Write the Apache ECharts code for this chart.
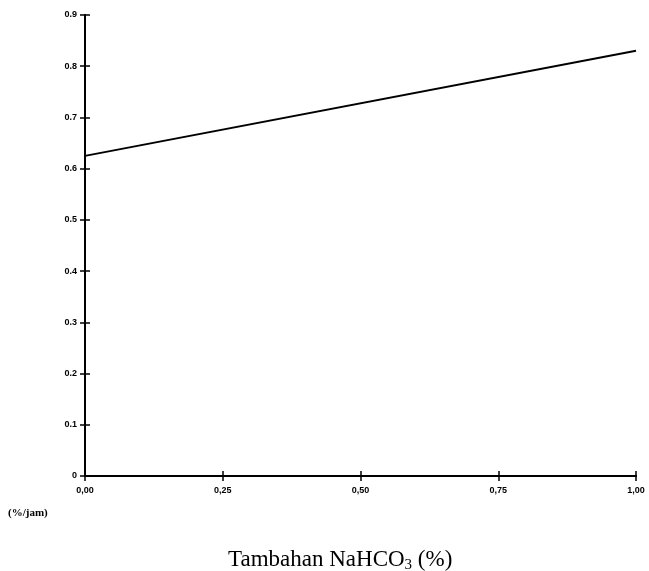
<!DOCTYPE html>
<html>
<head>
<meta charset="utf-8">
<script src="https://cdn.jsdelivr.net/npm/echarts@6/dist/echarts.min.js"></script>
<style>
  html, body { margin: 0; padding: 0; background: #fff; }
  #chart { width: 649px; height: 571px; }
</style>
</head>
<body>
<div id="chart"></div>
<script>
// data
var xValues = [0, 1];
var yValues = [0.625, 0.83];
var xTicks = [0, 0.25, 0.5, 0.75, 1];
var yTicks = [0, 0.1, 0.2, 0.3, 0.4, 0.5, 0.6, 0.7, 0.8, 0.9];

var chart = echarts.init(document.getElementById('chart'));

var labelFont = { color: '#000', fontFamily: 'Liberation Sans', fontWeight: 'bold', fontSize: 9 };

function xAxisCfg(inside, show) {
  return {
    type: 'value', min: 0, max: 1, interval: 0.25, position: 'bottom',
    axisLine: { show: true, onZero: false, lineStyle: { color: '#000', width: 2 } },
    axisTick: { show: true, inside: inside, length: 5, lineStyle: { color: '#000', width: 1.5 } },
    axisLabel: Object.assign({ show: show, margin: 10,
      formatter: function (v) { return v.toFixed(2).replace('.', ','); } }, labelFont),
    splitLine: { show: false }
  };
}
function yAxisCfg(inside, show) {
  return {
    type: 'value', min: 0, max: 0.9, interval: 0.1, position: 'left',
    axisLine: { show: true, onZero: false, lineStyle: { color: '#000', width: 2 } },
    axisTick: { show: true, inside: inside, length: 5, lineStyle: { color: '#000', width: 1.5 } },
    axisLabel: Object.assign({ show: show, margin: 8,
      formatter: function (v) { return v === 0 ? '0' : v.toFixed(1); } }, labelFont),
    splitLine: { show: false }
  };
}

chart.setOption({
  animation: false,
  backgroundColor: '#fff',
  grid: { left: 85, right: 13, top: 15, bottom: 95 },
  xAxis: [xAxisCfg(false, true), xAxisCfg(true, false)],
  yAxis: [yAxisCfg(false, true), yAxisCfg(true, false)],
  title: [
    { text: '(%/jam)', left: 3, top: 503,
      textStyle: { fontFamily: 'Liberation Serif', fontWeight: 'bold', fontSize: 11, color: '#000' } },
    { text: 'Tambahan NaHCO{s|3} (%)', left: 223, top: 541,
      textStyle: { fontFamily: 'Liberation Serif', fontWeight: 'normal', fontSize: 23, color: '#000',
        rich: { s: { fontFamily: 'Liberation Serif', fontSize: 15, color: '#000', padding: [12, 0, 0, 0] } } } }
  ],
  series: [{
    type: 'line',
    data: xValues.map(function (x, i) { return [x, yValues[i]]; }),
    symbol: 'none',
    lineStyle: { color: '#000', width: 2 }
  }]
});
</script>
</body>
</html>
